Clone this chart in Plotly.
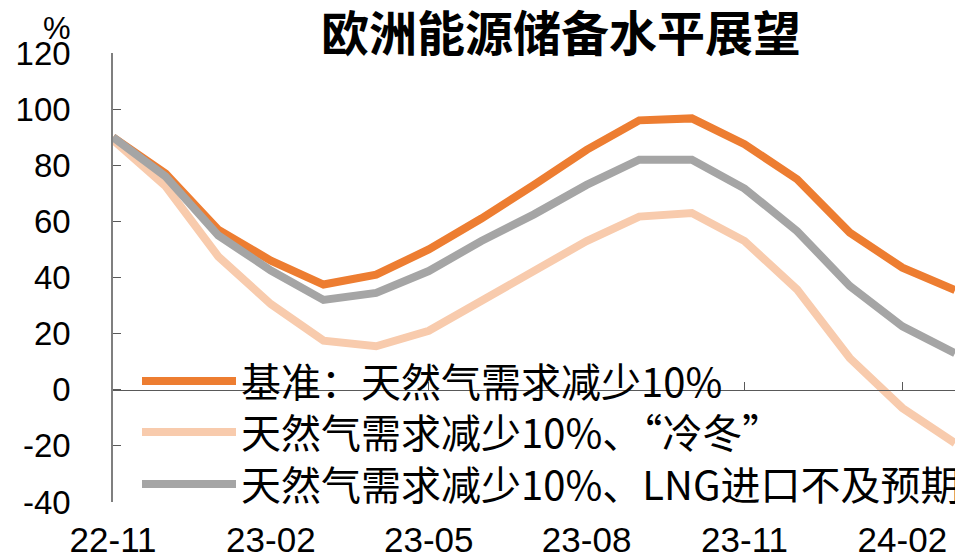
import plotly.graph_objects as go

months = ["22-11", "22-12", "23-01", "23-02", "23-03", "23-04", "23-05", "23-06",
          "23-07", "23-08", "23-09", "23-10", "23-11", "23-12", "24-01", "24-02", "24-03"]
tick_labels = ["22-11", "23-02", "23-05", "23-08", "23-11", "24-02"]
y_ticks = [-40, -20, 0, 20, 40, 60, 80, 100, 120]
y_tick_text = ["-40", "-20", "0", "20", "40", "60", "80", "100", "120"]

base = [90, 77, 57, 46, 37.5, 41, 50, 61, 73, 85.5, 96, 96.7, 87.5, 75, 56, 43.5, 35.5]
cold_winter = [89, 72.5, 47.5, 30.5, 17.5, 15.5, 21, 31.5, 42, 53, 61.7, 63, 53, 35.7, 11.3, -6.5, -19]
lng_short = [90, 76, 55, 42.5, 32, 34.5, 42.3, 53, 62.5, 73, 82, 82, 71.7, 56.5, 37, 22.6, 13]

names = ["基准：天然气需求减少10%",
         "天然气需求减少10%、“冷冬”",
         "天然气需求减少10%、LNG进口不及预期"]
colors = ["#ED7D31", "#F8CBAD", "#A5A5A5"]
series = [base, cold_winter, lng_short]
legend_ids = ["legend", "legend2", "legend3"]

FONT = "Liberation Sans, Arial, Noto Sans CJK SC, sans-serif"
CJK = "Noto Sans CJK SC, Liberation Sans, sans-serif"

# the page body adds an 8px margin, so the figure is 8px smaller than the window
W, H = 955, 551
L, R, T, B = 105, 8, 45, 57
plot_w, plot_h = W - L - R, H - T - B

fig = go.Figure()
for name, vals, col, lg in zip(names, series, colors, legend_ids):
    fig.add_trace(go.Scatter(x=months, y=vals, name=name, mode="lines", legend=lg,
                             line=dict(color=col, width=8)))

legend_rows = [373, 424, 476]
leg_common = dict(xref="container", yref="container", xanchor="left", yanchor="middle",
                  bgcolor="rgba(0,0,0,0)", borderwidth=0,
                  font=dict(family=CJK, size=40, color="black"), itemwidth=94)
legends = {}
for lg, yc in zip(legend_ids, legend_rows):
    legends[lg] = dict(x=129 / W, y=1 - yc / H, **leg_common)

fig.update_layout(
    width=W, height=H,
    margin=dict(l=L, r=R, t=T, b=B, autoexpand=False),
    paper_bgcolor="white", plot_bgcolor="white",
    font=dict(family=FONT, color="black", size=33),
    title=dict(text="<b>欧洲能源储备水平展望</b>", x=553/W, xanchor="center",
               y=1 - 26/H, yanchor="middle", xref="container", yref="container",
               font=dict(family=CJK, size=48, color="black")),
    showlegend=True,
    **legends,
    xaxis=dict(type="category", range=[0, 16], anchor="free", position=0.25,
               showline=True, linecolor="#595959", linewidth=1,
               ticks="inside", ticklen=8, tickcolor="#595959",
               tickvals=tick_labels, ticktext=tick_labels,
               ticklabelstandoff=119, showgrid=False, zeroline=False, automargin=False,
               tickfont=dict(family=FONT, size=35)),
    yaxis=dict(range=[-40, 120], tickvals=y_ticks, ticktext=y_tick_text,
               showline=True, linecolor="#7f7f7f", linewidth=1.5,
               ticks="inside", ticklen=8, tickcolor="#595959",
               showgrid=False, zeroline=False, ticklabelstandoff=34, automargin=False,
               tickfont=dict(family=FONT, size=33)),
    annotations=[dict(text="%", xref="paper", yref="paper",
                      x=(49 - L) / plot_w, y=(H - B - 20) / plot_h,
                      xanchor="center", yanchor="middle",
                      showarrow=False, font=dict(family=FONT, size=31, color="black"))],
)

fig.write_html("out.html", config={"displayModeBar": False})
